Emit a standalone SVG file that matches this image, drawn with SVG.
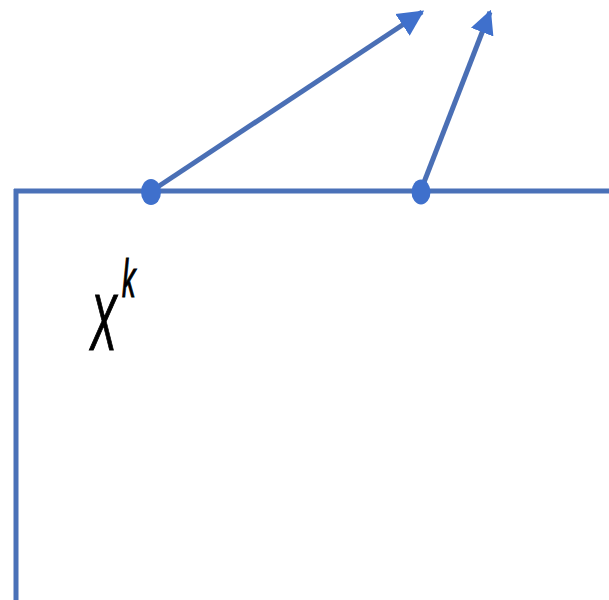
<svg xmlns="http://www.w3.org/2000/svg" width="609" height="600" viewBox="0 0 609 600">
<style>
.ln{stroke:#4a71b8;stroke-width:5;fill:none}
.ar{stroke:#4a6fb5;stroke-width:5;fill:none}
.dot{fill:#3f70cc}
.lbl{font-family:"Liberation Sans",Arial,sans-serif;font-style:italic;fill:#000;stroke:#000;stroke-width:1.2}
</style>
<defs>
<marker id="ah" viewBox="0 0 10 10" refX="9" refY="5" markerUnits="userSpaceOnUse" markerWidth="26" markerHeight="28" orient="auto">
<path d="M0,0 L10,5 L0,10 z" fill="#3f70cc"/>
</marker>
<marker id="ah2" viewBox="0 0 10 10" refX="9" refY="5" markerUnits="userSpaceOnUse" markerWidth="24" markerHeight="24" orient="auto">
<path d="M0,0 L10,5 L0,10 z" fill="#3f70cc"/>
</marker>
</defs>
<g id="frame">
<line class="ln" x1="14" y1="191" x2="609" y2="191"/>
<line class="ln" x1="16" y1="189" x2="16" y2="600"/>
</g>
<g id="connectors">
<line class="ar" x1="153" y1="190" x2="422" y2="12" marker-end="url(#ah)"/>
<line class="ar" x1="421" y1="190" x2="490" y2="12" marker-end="url(#ah2)"/>
</g>
<g id="node-xk">
<ellipse class="dot" cx="151" cy="192" rx="10" ry="13"/>
</g>
<g id="node-2">
<ellipse class="dot" cx="421" cy="192" rx="9.5" ry="12.5"/>
</g>
<g id="label">
<text class="lbl" transform="translate(90,350) scale(0.5,1)" font-size="80">X</text>
<text class="lbl" transform="translate(122,297) scale(0.5,1)" font-size="54">k</text>
</g>
</svg>
